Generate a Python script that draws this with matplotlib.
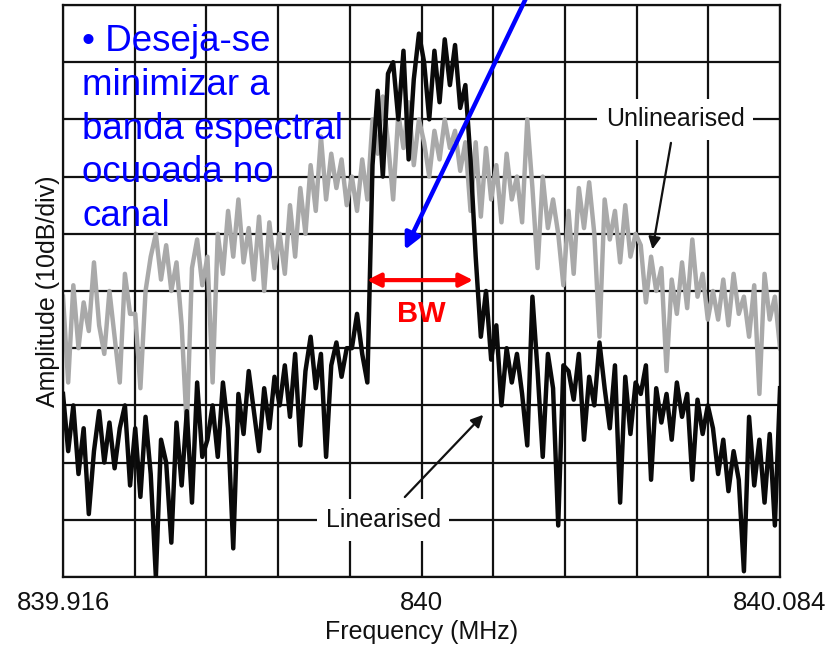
import numpy as np
import matplotlib.pyplot as plt

plt.rcParams['font.family'] = ['Liberation Sans', 'DejaVu Sans']

f_start, f_stop = 839.916, 840.084
f_center = 840.0

# amplitude in grid divisions (10 dB/div), one row per grid column
unlinearised = [
    4.9, 3.4, 5.1, 4.0, 4.8, 4.3, 5.5, 4.4, 3.9, 5.0, 4.2, 3.4, 5.3, 4.6,
    4.6, 3.3, 5.0, 5.6, 6.0, 5.2, 5.8, 5.0, 5.5, 4.4, 2.6, 5.4, 5.9, 5.1,
    5.6, 3.4, 6.0, 5.3, 6.4, 5.6, 6.6, 5.5, 6.1, 5.2, 6.3, 5.0, 6.2, 5.4,
    6.0, 5.3, 6.5, 5.6, 6.8, 6.0, 7.2, 6.4, 7.7, 6.6, 7.4, 6.8, 7.3, 6.5,
    7.0, 6.4, 7.3, 6.6, 8.0, 7.4, 8.4, 7.6, 6.6, 8.1, 7.5, 8.3, 7.2, 8.0,
    7.6, 7.0, 7.8, 7.3, 8.0, 7.5, 7.8, 7.1, 7.6, 6.4, 7.6, 6.3, 7.5, 6.6,
    7.2, 6.2, 7.4, 6.6, 7.0, 6.2, 8.0, 6.8, 5.4, 7.0, 6.1, 6.6, 6.0, 5.1,
    6.4, 5.3, 6.8, 6.1, 6.9, 6.0, 4.2, 6.6, 5.9, 6.4, 5.5, 6.5, 5.6, 6.0,
    5.8, 4.8, 5.6, 5.0, 5.4, 3.6, 5.2, 4.6, 5.5, 4.7, 5.9, 4.9, 5.3, 4.5,
    5.0, 4.5, 5.2, 4.4, 5.3, 4.6, 4.9, 4.2, 5.1, 3.2, 5.3, 4.5, 4.9, 4.0,
]
linearised = [
    3.2, 2.2, 3.0, 1.8, 2.6, 1.1, 2.2, 2.9, 2.0, 2.7, 1.9, 2.6, 3.0, 1.6,
    2.6, 1.4, 2.8, 1.8, 0.0, 2.4, 2.0, 0.6, 2.7, 1.6, 2.9, 1.3, 3.4, 2.1,
    2.4, 3.0, 2.1, 3.4, 2.6, 0.5, 3.2, 2.5, 3.6, 2.9, 2.2, 3.3, 2.6, 3.5,
    3.0, 3.7, 2.8, 3.9, 2.3, 3.6, 4.2, 3.3, 3.9, 2.1, 3.7, 4.1, 3.5, 4.0,
    4.0, 4.6, 3.9, 3.4, 7.2, 8.5, 7.0, 8.8, 9.0, 8.0, 9.2, 7.3, 8.7, 9.5,
    9.0, 8.0, 9.2, 8.3, 9.4, 8.6, 9.3, 8.2, 8.6, 7.3, 5.6, 4.2, 5.0, 3.8,
    4.4, 3.0, 4.0, 3.4, 3.9, 3.2, 2.3, 4.9, 3.6, 2.1, 3.9, 3.3, 0.9, 3.7,
    3.6, 3.1, 3.9, 2.4, 3.5, 3.0, 4.1, 3.3, 2.6, 3.7, 1.3, 3.5, 2.5, 3.4,
    3.2, 3.7, 1.7, 3.3, 2.7, 3.2, 2.4, 3.4, 2.8, 3.2, 1.7, 3.1, 2.5, 3.0,
    2.6, 1.8, 2.4, 1.5, 2.2, 1.7, 0.1, 2.8, 1.6, 2.4, 1.3, 2.5, 0.9, 3.3,
]
# analyser sweep points, evenly spaced over the span
freq = np.linspace(f_start, f_stop, len(unlinearised))

fig = plt.figure(figsize=(8.27, 6.48), dpi=100)
ax = fig.add_axes([0.0762, 0.1096, 0.8670, 0.8827])

ax.plot(freq, unlinearised, color='#a9a9a9', lw=3.2, zorder=2)
ax.plot(freq, linearised, color='#0a0a0a', lw=3.2, zorder=3)

ax.set_xlim(f_start, f_stop)
ax.set_ylim(0, 10)
xgrid = np.linspace(f_start, f_stop, 11)
ax.set_xticks(xgrid)
ax.set_xticklabels(['839.916', '', '', '', '', '840', '', '', '', '', '840.084'],
                   fontsize=18.5, color='#111111')
ax.set_yticks(range(11))
ax.set_yticklabels([])
ax.tick_params(length=0, pad=10)
ax.grid(True, color='#111111', lw=1.6)
ax.set_axisbelow(True)
for s in ax.spines.values():
    s.set_linewidth(1.6)
    s.set_color('#111111')

ax.set_xlabel('Frequency (MHz)', fontsize=18, color='#111111', labelpad=4)
ax.set_ylabel('Amplitude (10dB/div)', fontsize=18, color='#111111', labelpad=-8)

# trace labels with arrows
ax.annotate('Unlinearised', xy=(840.0540, 5.68), xytext=(840.0594, 8.0),
            ha='center', va='center', fontsize=18, color='#111111', zorder=5,
            bbox=dict(boxstyle='square,pad=0.35', fc='white', ec='none'),
            arrowprops=dict(arrowstyle='-|>', color='#111111', lw=1.6,
                            mutation_scale=18))
ax.annotate('Linearised', xy=(840.0149, 2.87), xytext=(839.991, 1.0),
            ha='center', va='center', fontsize=18, color='#111111', zorder=5,
            bbox=dict(boxstyle='square,pad=0.35', fc='white', ec='none'),
            arrowprops=dict(arrowstyle='-|>', color='#111111', lw=1.6,
                            mutation_scale=18))

# bandwidth marker
ax.annotate('', xy=(839.9872, 5.19), xytext=(840.0121, 5.19),
            arrowprops=dict(arrowstyle='<|-|>', color='#ff0000', lw=3,
                            mutation_scale=20, shrinkA=0, shrinkB=0), zorder=6)
ax.text(f_center, 4.6, 'BW', color='#ff0000', fontsize=21, fontweight='bold',
        ha='center', va='center', zorder=6)

# blue pointer from outside the plot
ax.annotate('', xy=(839.9961, 5.72), xytext=(840.025, 10.2),
            annotation_clip=False,
            arrowprops=dict(arrowstyle='-|>', color='#0000ff', lw=3.2,
                            mutation_scale=24, shrinkA=0, shrinkB=0), zorder=6)

ax.text(0.0265, 0.966, '\u2022 Deseja-se\nminimizar a\nbanda espectral\nocuoada no\ncanal',
        transform=ax.transAxes, ha='left', va='top', fontsize=26.5,
        color='#0000ff', linespacing=1.32, zorder=7)

fig.savefig('out.png', dpi=100)
